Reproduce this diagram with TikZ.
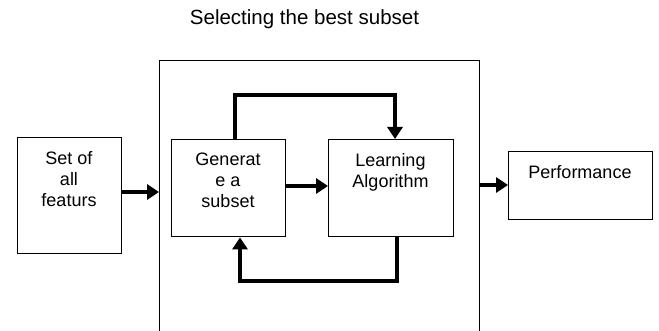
\documentclass[tikz,border=0pt]{standalone}
\usepackage{fontspec}
\setmainfont{Liberation Sans}
\usetikzlibrary{arrows.meta}
\begin{document}
\begin{tikzpicture}[x=1pt,y=-1pt,
  box/.style={draw,line width=1.4pt,inner sep=0,minimum width=#1},
  txt/.style={font=\fontsize{18}{21}\selectfont,align=center,inner sep=0,anchor=north},
  flow/.style={line width=3.5pt,-{Triangle[length=12pt,width=15pt]}},
  loopline/.style={line width=3.5pt}]
\useasboundingbox (0,0) rectangle (659,331);
\clip (0,0) rectangle (659,331);
% title
\node[font=\fontsize{20.5}{24}\selectfont,inner sep=0,anchor=base] (title) at (304.5,24.7) {Selecting the best subset};
% outer box (extends below picture)
\node[draw,line width=1.2pt,minimum width=320pt,minimum height=300pt,inner sep=0,anchor=north west] (outer) at (159,60) {};
% boxes
\node[box=104pt,minimum height=116pt,anchor=north west] (set) at (17,137) {};
\node[txt] (settxt) at (69,151) {Set of\\all\\featurs};
\node[box=114pt,minimum height=97pt,anchor=north west] (gen) at (171,139) {};
\node[txt] (gentxt) at (228,153) {Generat\\e a\\subset};
\node[box=125pt,minimum height=97pt,anchor=north west] (learn) at (328,139) {};
\node[txt] (learntxt) at (390.5,153) {Learning\\Algorithm};
\node[box=144pt,minimum height=68pt,anchor=north west] (perf) at (508,151) {};
\node[txt] (perftxt) at (580,165) {Performance};
% coordinates for loops
\coordinate (tl) at (235,95);
\coordinate (tr) at (395,95);
\coordinate (bl) at (240,281);
\coordinate (br) at (397,281);
% arrows
\draw[flow] (set.east |- 0,192) -- (outer.west |- 0,192);
\draw[flow] (gen.east |- 0,186) -- (learn.west |- 0,186);
\draw[flow] (outer.east |- 0,185) -- (perf.west |- 0,185);
\draw[loopline,line join=miter] (gen.north -| tl) -- (tl) -- (tr);
\draw[flow,line join=miter] (tl) -- (tr) -- (learn.north -| tr);
\draw[loopline,line join=miter] (learn.south -| br) -- (br) -- (bl);
\draw[flow,line join=miter] (br) -- (bl) -- (gen.south -| bl);
\end{tikzpicture}
\end{document}
